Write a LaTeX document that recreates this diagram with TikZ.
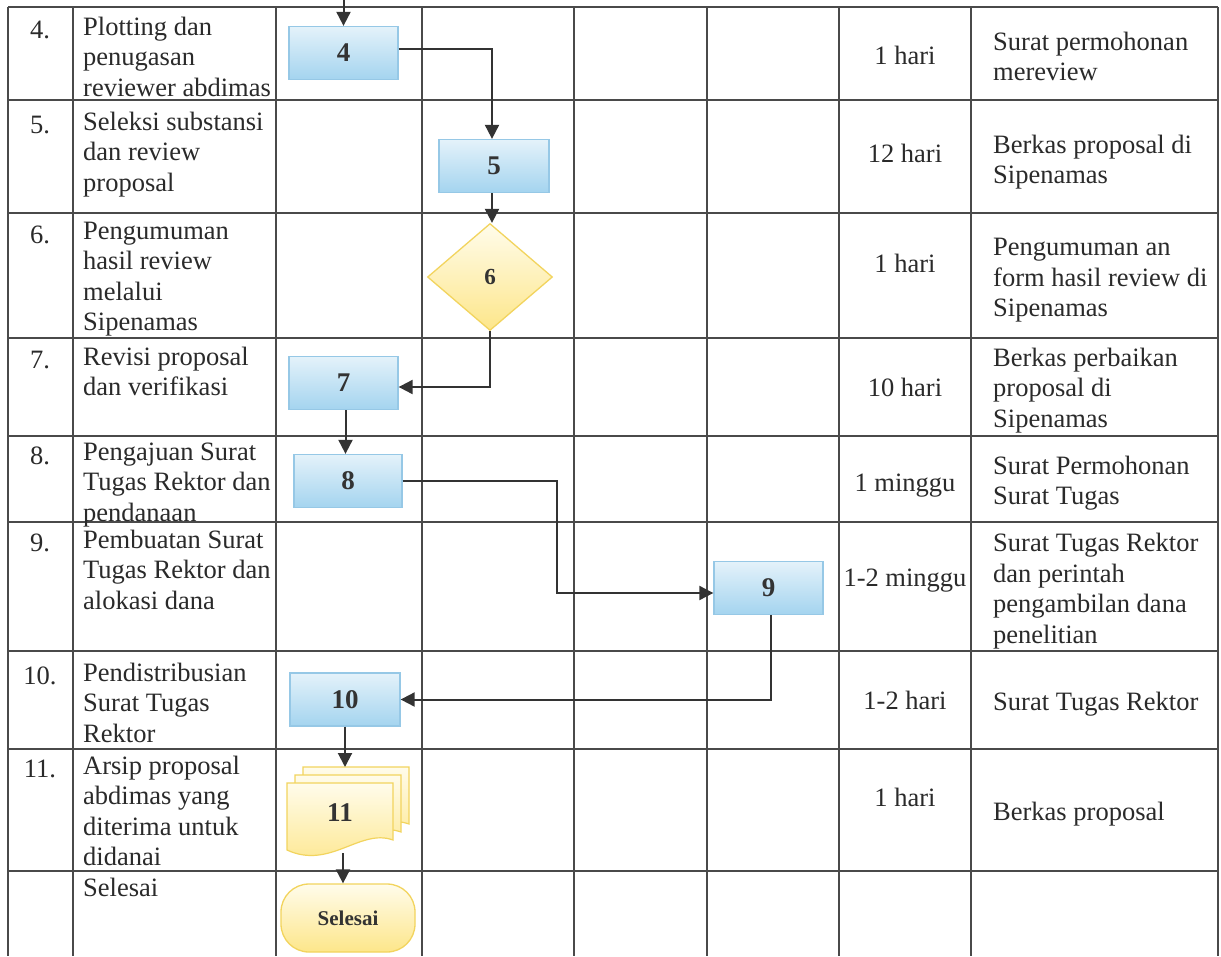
\documentclass[tikz,border=0pt]{standalone}
\usepackage{fontspec}
\setmainfont{Liberation Serif}
\usetikzlibrary{shapes.geometric,arrows.meta,calc}
\definecolor{ink}{HTML}{2A2A2A}
\definecolor{gridc}{HTML}{4A4A4A}
\definecolor{arrc}{HTML}{333333}
\definecolor{bluetop}{HTML}{E4F2FA}
\definecolor{bluebot}{HTML}{A4D4EF}
\definecolor{blueline}{HTML}{96C8E6}
\definecolor{yeltop}{HTML}{FFFCEB}
\definecolor{yelbot}{HTML}{FDE68A}
\definecolor{yelline}{HTML}{F2D45E}
\begin{document}
\begin{tikzpicture}[x=1pt,y=-1pt,
  grid/.style={draw=gridc, line width=1.4pt},
  txt/.style={font=\fontsize{26.5}{30.5}\selectfont, text=ink, inner sep=0pt, align=left,
    execute at begin node=\strut, execute at end node=\strut},
  numlbl/.style={font=\fontsize{27}{30}\selectfont\bfseries, text=arrc},
  bbox/.style={draw=blueline, line width=1.3pt, top color=bluetop, bottom color=bluebot,
    minimum width=109pt, minimum height=53pt, inner sep=0pt, numlbl},
  dec/.style={diamond, draw=yelline, line width=1.3pt, top color=yeltop, bottom color=yelbot,
    minimum width=125pt, minimum height=107pt, inner sep=0pt, numlbl, font=\fontsize{23}{26}\selectfont\bfseries},
  page/.style={draw=yelline, line width=1.2pt, top color=yeltop, bottom color=yelbot},
  term/.style={draw=yelline, line width=1.3pt, top color=yeltop, bottom color=yelbot,
    rounded corners=28pt, minimum width=134pt, minimum height=68pt, inner sep=0pt,
    font=\fontsize{21}{24}\selectfont\bfseries, text=arrc},
  arr/.style={draw=arrc, line width=2pt, -{Triangle[length=14pt,width=14pt]}}
]
\path[use as bounding box, fill=white] (0,0) rectangle (1221,956);

% table grid
\foreach \x in {8,73,276,422,574,707,839,971,1218} \draw[grid] (\x,7) -- (\x,956);
\foreach \y in {7,100,213,338,436,522,651,749,871} \draw[grid] (8,\y) -- (1218,\y);

% numbers
\node[txt, anchor=north] (n4)  at (40,{27-10.35})  {4.};
\node[txt, anchor=north] (n5)  at (40,{122-10.35}) {5.};
\node[txt, anchor=north] (n6)  at (40,{232-10.35}) {6.};
\node[txt, anchor=north] (n7)  at (40,{357-10.35}) {7.};
\node[txt, anchor=north] (n8)  at (40,{453-10.35}) {8.};
\node[txt, anchor=north] (n9)  at (40,{540-10.35}) {9.};
\node[txt, anchor=north] (n10) at (40,{673-10.35}) {10.};
\node[txt, anchor=north] (n11) at (40,{766-10.35}) {11.};

% activities
\node[txt, anchor=north west] (a4)  at (83,{27-10.35})  {Plotting dan\\penugasan\\reviewer abdimas};
\node[txt, anchor=north west] (a5)  at (83,{122-10.35}) {Seleksi substansi\\dan review\\proposal};
\node[txt, anchor=north west] (a6)  at (83,{232-10.35}) {Pengumuman\\hasil review\\melalui\\Sipenamas};
\node[txt, anchor=north west] (a7)  at (83,{357-10.35}) {Revisi proposal\\dan verifikasi};
\node[txt, anchor=north west] (a8)  at (83,{453-10.35}) {Pengajuan Surat\\Tugas Rektor dan\\pendanaan};
\node[txt, anchor=north west] (a9)  at (83,{540-10.35}) {Pembuatan Surat\\Tugas Rektor dan\\alokasi dana};
\node[txt, anchor=north west] (a10) at (83,{673-10.35}) {Pendistribusian\\Surat Tugas\\Rektor};
\node[txt, anchor=north west] (a11) at (83,{766-10.35}) {Arsip proposal\\abdimas yang\\diterima untuk\\didanai};
\node[txt, anchor=north west] (a12) at (83,{885-10.35}) {Selesai};

% durations
\node[txt, align=center] (w4)  at (905,58)  {1 hari};
\node[txt, align=center] (w5)  at (905,156) {12 hari};
\node[txt, align=center] (w6)  at (905,266) {1 hari};
\node[txt, align=center] (w7)  at (905,390) {10 hari};
\node[txt, align=center] (w8)  at (905,485) {1 minggu};
\node[txt, align=center] (w9)  at (905,580) {1-2 minggu};
\node[txt, align=center] (w10) at (905,703) {1-2 hari};
\node[txt, align=center] (w11) at (905,800) {1 hari};

% outputs
\node[txt, anchor=west] (o4)  at (993,61)  {Surat permohonan\\mereview};
\node[txt, anchor=west] (o5)  at (993,164) {Berkas proposal di\\Sipenamas};
\node[txt, anchor=west] (o6)  at (993,282) {Pengumuman an\\form hasil review di\\Sipenamas};
\node[txt, anchor=west] (o7)  at (993,392) {Berkas perbaikan\\proposal di\\Sipenamas};
\node[txt, anchor=west] (o8)  at (993,485) {Surat Permohonan\\Surat Tugas};
\node[txt, anchor=west] (o9)  at (993,593) {Surat Tugas Rektor\\dan perintah\\pengambilan dana\\penelitian};
\node[txt, anchor=west] (o10) at (993,704) {Surat Tugas Rektor};
\node[txt, anchor=west] (o11) at (993,814) {Berkas proposal};

% flow shapes
\node[bbox] (b4)  at (343.5,53)  {4};
\node[bbox, minimum width=110pt] (b5) at (494,166) {5};
\node[dec]  (d6)  at (490,277)   {6};
\node[bbox] (b7)  at (343.5,383) {7};
\node[bbox, minimum width=108pt] (b8) at (348,481) {8};
\node[bbox] (b9)  at (768.5,588) {9};
\node[bbox, minimum width=110pt] (b10) at (345,699.5) {10};

% multi-document 11
\foreach \d in {16,8,0}
  \path[page] (287+\d,783-\d) -- (393+\d,783-\d) -- (393+\d,840-\d)
     .. controls (360+\d,828-\d) and (330+\d,870-\d) .. (287+\d,850-\d) -- cycle;
\node[numlbl, inner sep=0pt] (d11) at (340,813) {11};
\coordinate (d11in)  at (345,767);
\coordinate (d11out) at (343,853);

\node[term] (sel) at (348,918) {Selesai};

% connectors
\coordinate (start) at (343.5,0);
\coordinate (c89) at (557,0);
\draw[arr] (start) -- (b4.north);
\draw[arr] ([yshift=4pt]b4.east) -| ([xshift=-2pt]b5.north);
\draw[arr] ([xshift=-2pt]b5.south) -- ([xshift=-2pt]b5.south |- d6.north);
\draw[arr] (d6.south) |- ([yshift=-4pt]b7.east);
\draw[arr] ([xshift=2pt]b7.south) -- ([xshift=2pt]b7.south |- b8.north);
\draw[arr] (b8.east) -- (b8.east -| c89) |- ([yshift=-5pt]b9.west);
\draw[arr] ([xshift=2.5pt]b9.south) |- (b10.east);
\draw[arr] (b10.south) -- (b10.south |- d11in);
\draw[arr] (d11out) -- (d11out |- sel.north);
\end{tikzpicture}
\end{document}
